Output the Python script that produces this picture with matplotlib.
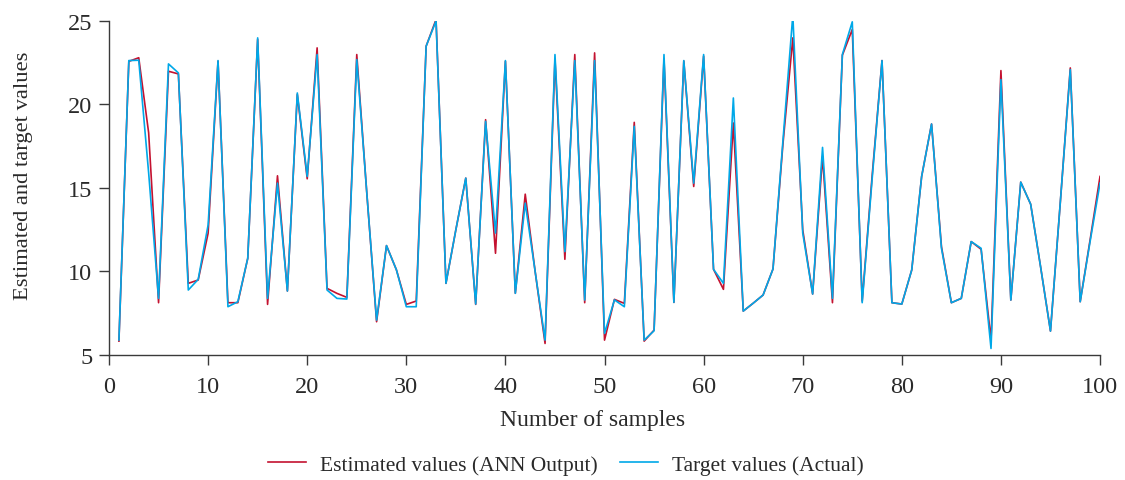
import matplotlib
matplotlib.use("Agg")
import matplotlib.pyplot as plt
import numpy as np

samples = list(range(1, 101))

estimated = [
    5.83, 22.58, 22.80, 18.30, 8.13, 21.99, 21.83, 9.29, 9.49, 12.29,
    22.59, 8.13, 8.13, 10.79, 23.90, 8.03, 15.73, 8.83, 20.60, 15.55,
    23.39, 8.99, 8.69, 8.45, 22.99, 14.80, 6.99, 11.55, 10.10, 8.03,
    8.23, 23.49, 25.09, 9.29, 12.50, 15.59, 8.03, 19.09, 11.09, 22.59,
    8.70, 14.63, 10.00, 5.69, 22.73, 10.73, 22.99, 8.13, 23.09, 5.89,
    8.33, 8.09, 18.93, 5.83, 6.49, 22.73, 8.15, 22.60, 15.09, 22.89,
    10.13, 8.93, 18.89, 7.63, 8.10, 8.59, 10.15, 17.60, 23.99, 12.50,
    8.65, 16.89, 8.13, 22.95, 24.49, 8.23, 15.70, 22.63, 8.13, 8.05,
    10.09, 15.69, 18.83, 11.49, 8.13, 8.39, 11.79, 11.33, 5.89, 22.03,
    8.29, 15.35, 14.03, 10.29, 6.43, 14.20, 22.19, 8.19, 11.90, 15.69,
]

target = [
    5.90, 22.63, 22.65, 15.90, 8.39, 22.43, 21.89, 8.89, 9.53, 12.79,
    22.63, 7.89, 8.19, 10.79, 23.99, 8.39, 15.29, 8.83, 20.69, 15.69,
    22.99, 8.89, 8.39, 8.35, 22.69, 14.80, 7.09, 11.55, 10.10, 7.89,
    7.89, 23.49, 25.00, 9.29, 12.50, 15.59, 8.05, 18.99, 12.30, 22.63,
    8.69, 14.09, 10.00, 5.89, 22.99, 11.19, 22.63, 8.29, 22.63, 6.29,
    8.30, 7.89, 18.69, 5.89, 6.45, 22.99, 8.15, 22.63, 15.29, 22.99,
    10.13, 9.29, 20.39, 7.63, 8.10, 8.59, 10.15, 17.80, 25.35, 12.30,
    8.65, 17.43, 8.39, 22.99, 24.95, 8.13, 15.50, 22.63, 8.13, 8.05,
    10.09, 15.69, 18.83, 11.39, 8.13, 8.39, 11.79, 11.39, 5.39, 21.49,
    8.29, 15.35, 14.03, 10.29, 6.43, 14.20, 22.09, 8.19, 11.80, 15.29,
]

x_ticks = [0, 10, 20, 30, 40, 50, 60, 70, 80, 90, 100]
y_ticks = [5, 10, 15, 20, 25]

plt.rcParams['font.family'] = ['Liberation Serif', 'DejaVu Serif']

fig = plt.figure(figsize=(11.25, 4.81), dpi=100)
ax = fig.add_axes([0.0969, 0.2599, 0.8809, 0.6944])

ax.plot(samples, estimated, color='#C41230', lw=1.2, label='Estimated values (ANN Output)', zorder=2)
ax.plot(samples, target, color='#00A8E8', lw=1.2, label='Target values (Actual)', zorder=3)

ax.set_xlim(0, 100)
ax.set_ylim(5, 25)
ax.set_xticks(x_ticks)
ax.set_yticks(y_ticks)

for side in ['top', 'right']:
    ax.spines[side].set_visible(False)
for side in ['left', 'bottom']:
    ax.spines[side].set_color('#3a3a3a')
    ax.spines[side].set_linewidth(1.0)

ax.tick_params(axis='both', direction='out', length=7, width=1.0, color='#3a3a3a',
               labelsize=17.5, labelcolor='#2a2a2a', pad=5)
ax.tick_params(axis='x', pad=8)

ax.set_xlabel('Number of samples', fontsize=17, color='#2a2a2a')
ax.set_ylabel('Estimated and target values', fontsize=16.2, color='#2a2a2a')
ax.xaxis.set_label_coords(0.488, -0.163)
ax.yaxis.set_label_coords(-0.077, 0.54)

fig.legend(loc='center', bbox_to_anchor=(0.503, 0.032), ncol=2, frameon=False,
           fontsize=15.5, handlelength=1.77, columnspacing=1.0, handletextpad=0.65,
           labelcolor='#2a2a2a')

fig.savefig('out.png', dpi=100)
